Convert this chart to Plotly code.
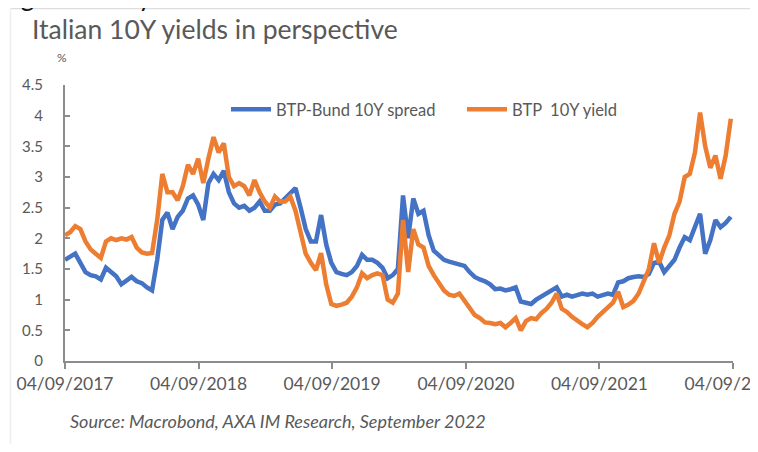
import pandas as pd
import plotly.graph_objects as go

# fortnightly observation dates (start 04/09/2017)
dates = pd.date_range("2017-09-04", periods=131, freq="14D")

btp_bund_spread = [
    1.65, 1.70, 1.75, 1.60, 1.45, 1.40, 1.38, 1.33, 1.52, 1.45,
    1.38, 1.25, 1.30, 1.37, 1.30, 1.27, 1.20, 1.15, 1.65, 2.30,
    2.42, 2.15, 2.35, 2.45, 2.65, 2.70, 2.55, 2.30, 2.90, 3.05,
    2.95, 3.10, 2.75, 2.57, 2.50, 2.53, 2.45, 2.50, 2.60, 2.45,
    2.45, 2.55, 2.57, 2.65, 2.75, 2.82, 2.50, 2.15, 1.95, 1.95,
    2.38, 1.90, 1.60, 1.45, 1.42, 1.40, 1.45, 1.55, 1.73, 1.65,
    1.65, 1.60, 1.52, 1.35, 1.40, 1.50, 2.70, 2.00, 2.65, 2.40,
    2.45, 2.05, 1.80, 1.72, 1.65, 1.62, 1.60, 1.57, 1.55, 1.45,
    1.37, 1.33, 1.30, 1.25, 1.17, 1.18, 1.15, 1.17, 1.20, 0.97,
    0.95, 0.93, 1.00, 1.05, 1.10, 1.15, 1.20, 1.05, 1.08, 1.05,
    1.08, 1.10, 1.08, 1.10, 1.05, 1.08, 1.10, 1.08, 1.28, 1.30,
    1.35, 1.37, 1.38, 1.37, 1.42, 1.60, 1.62, 1.45, 1.55, 1.65,
    1.85, 2.02, 1.97, 2.18, 2.40, 1.75, 1.97, 2.30, 2.18, 2.25,
    2.35,
]

btp_10y_yield = [
    2.05, 2.10, 2.20, 2.15, 1.95, 1.82, 1.75, 1.68, 1.95, 2.00,
    1.97, 2.00, 1.98, 2.02, 1.85, 1.77, 1.75, 1.76, 2.30, 3.05,
    2.75, 2.75, 2.62, 2.85, 3.20, 3.05, 3.30, 2.90, 3.30, 3.65,
    3.40, 3.55, 3.00, 2.85, 2.90, 2.85, 2.70, 2.95, 2.75, 2.60,
    2.50, 2.68, 2.60, 2.60, 2.68, 2.45, 2.10, 1.75, 1.60, 1.48,
    1.76, 1.25, 0.93, 0.90, 0.92, 0.95, 1.05, 1.20, 1.43, 1.35,
    1.40, 1.43, 1.40, 1.00, 0.95, 1.10, 2.30, 1.45, 2.15, 1.90,
    1.85, 1.55, 1.40, 1.28, 1.15, 1.08, 1.06, 1.10, 0.98, 0.88,
    0.75, 0.70, 0.63, 0.62, 0.60, 0.62, 0.55, 0.62, 0.70, 0.50,
    0.65, 0.70, 0.68, 0.78, 0.85, 0.95, 1.10, 0.85, 0.80, 0.72,
    0.65, 0.60, 0.55, 0.62, 0.72, 0.80, 0.87, 0.95, 1.13, 0.88,
    0.92, 0.98, 1.10, 1.30, 1.50, 1.92, 1.60, 1.85, 2.05, 2.40,
    2.60, 3.00, 3.05, 3.40, 4.05, 3.50, 3.15, 3.35, 2.97, 3.35,
    3.95,
]

x_tick_dates = ["2017-09-04", "2018-09-04", "2019-09-04", "2020-09-04", "2021-09-04", "2022-09-04"]
x_tick_labels = ["04/09/2017", "04/09/2018", "04/09/2019", "04/09/2020", "04/09/2021", "04/09/2022"]
y_tick_vals = [0, 0.5, 1, 1.5, 2, 2.5, 3, 3.5, 4, 4.5]
y_tick_labels = ["0", "0.5", "1", "1.5", "2", "2.5", "3", "3.5", "4", "4.5"]

BLUE = "#4472C4"
ORANGE = "#ED7D31"
GREY = "#595959"
AXIS = "#8C8C8C"
FONT = "Lato"

# the page body has an 8px margin, so the figure is drawn 8px in from the window edge
OFF = 8
W, H = 758 - OFF, 452 - 2 * OFF
PLOT_L, PLOT_R, PLOT_T, PLOT_B = 65, 733, 85, 361   # window pixels of the plot area
L, T = PLOT_L - OFF, PLOT_T - OFF
R, B = W - (PLOT_R - OFF), H - (PLOT_B - OFF)
pw, ph = W - L - R, H - T - B


def px(xp):
    # window pixel -> paper x
    return (xp - OFF - L) / pw


def py(yp):
    # window pixel -> paper y
    return (H - B - (yp - OFF)) / ph


fig = go.Figure()
fig.add_trace(go.Scatter(x=dates, y=btp_bund_spread, mode="lines",
                         name="BTP-Bund 10Y spread",
                         line=dict(color=BLUE, width=4.5)))
fig.add_trace(go.Scatter(x=dates, y=btp_10y_yield, mode="lines",
                         name="BTP  10Y yield",
                         line=dict(color=ORANGE, width=4.5)))

fig.update_layout(
    width=W, height=H,
    margin=dict(l=L, r=R, t=T, b=B, autoexpand=False),
    paper_bgcolor="white", plot_bgcolor="white",
    font=dict(family=FONT, color=GREY),
    showlegend=True,
    legend=dict(orientation="h", x=px(226), y=py(92), xanchor="left", yanchor="top",
                font=dict(size=16.5, color=GREY), bgcolor="rgba(0,0,0,0)",
                entrywidth=181, itemwidth=40, traceorder="normal"),
)

fig.update_xaxes(
    range=["2017-09-04", "2022-09-04"],
    tickvals=x_tick_dates, ticktext=x_tick_labels,
    ticks="outside", ticklen=6, tickwidth=2, tickcolor=AXIS,
    showline=True, linecolor=AXIS, linewidth=2,
    showgrid=False, zeroline=False,
    tickfont=dict(size=17.5, color=GREY, family=FONT),
    ticklabeloverflow="allow",
)
fig.update_yaxes(
    range=[0, 4.5],
    tickvals=y_tick_vals, ticktext=y_tick_labels,
    ticks="inside", ticklen=5, tickwidth=2, tickcolor=AXIS,
    showline=True, linecolor=AXIS, linewidth=2,
    showgrid=False, zeroline=False,
    tickfont=dict(size=15, color=GREY, family=FONT),
    ticklabelstandoff=17,
)

# title and notes
fig.add_annotation(text="Italian 10Y yields in perspective", xref="paper", yref="paper",
                   x=px(30), y=py(29), xanchor="left", yanchor="middle", showarrow=False,
                   font=dict(size=26.5, color=GREY, family=FONT))
fig.add_annotation(text="%", xref="paper", yref="paper",
                   x=px(62), y=py(57), xanchor="center", yanchor="middle", showarrow=False,
                   font=dict(size=12, color=GREY, family=FONT))
fig.add_annotation(text="<i>Source: Macrobond, AXA IM Research, September 2022</i>",
                   xref="paper", yref="paper",
                   x=px(68), y=py(421), xanchor="left", yanchor="middle", showarrow=False,
                   font=dict(size=18, color=GREY, family=FONT))
# clipped headline from the page above the chart
fig.add_annotation(text="highest in 5 years", xref="paper", yref="paper",
                   x=px(-2), y=py(14), xanchor="left", yanchor="bottom", showarrow=False,
                   font=dict(size=26, color="#111111", family=FONT))

# chart frame lines
fig.add_shape(type="line", xref="paper", yref="paper", x0=px(10), x1=px(770), y0=py(8.5), y1=py(8.5),
              line=dict(color="#DDDDDD", width=1.5))
fig.add_shape(type="line", xref="paper", yref="paper", x0=px(10.5), x1=px(10.5), y0=py(8), y1=py(460),
              line=dict(color="#EEEEEE", width=1.5))

fig.write_html("out.html")
